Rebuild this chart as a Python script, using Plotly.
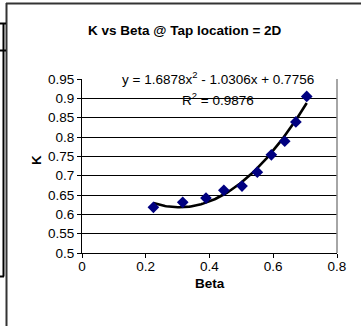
import numpy as np
import plotly.graph_objects as go

# Measured discharge coefficient K against diameter ratio Beta (tap at 2D)
beta = [0.224, 0.316, 0.389, 0.445, 0.502, 0.550, 0.594, 0.636, 0.671, 0.705]
k_vals = [0.618, 0.631, 0.642, 0.662, 0.673, 0.709, 0.754, 0.789, 0.839, 0.905]

# Second-order polynomial trendline coefficients and fit quality
coef_a, coef_b, coef_c = 1.6878, -1.0306, 0.7756
r_squared = 0.9876

y_ticks = [0.5, 0.55, 0.6, 0.65, 0.7, 0.75, 0.8, 0.85, 0.9, 0.95]
y_tick_text = ["0.5", "0.55", "0.6", "0.65", "0.7", "0.75", "0.8", "0.85", "0.9", "0.95"]
x_ticks = [0, 0.2, 0.4, 0.6, 0.8]
x_tick_text = ["0", "0.2", "0.4", "0.6", "0.8"]

W, H = 361, 327
L, R, T, B = 82, 337, 79, 253  # plot area edges in pixels


def px(x):
    return (x - L) / (R - L)


def py(y):
    return (B - y) / (B - T)


x_fit = np.linspace(min(beta), max(beta), 120)
y_fit = coef_a * x_fit ** 2 + coef_b * x_fit + coef_c

font = "Liberation Sans, Arial, sans-serif"
FS = 13.5

fig = go.Figure()
fig.add_trace(go.Scatter(
    x=x_fit, y=y_fit, mode="lines",
    line=dict(color="black", width=2.6), hoverinfo="skip", showlegend=False,
))
fig.add_trace(go.Scatter(
    x=beta, y=k_vals, mode="markers",
    marker=dict(symbol="diamond", size=9, color="#000080", line=dict(width=0)),
    showlegend=False,
))


def label(x, y, text, angle=0):
    fig.add_annotation(x=px(x), y=py(y), xref="paper", yref="paper",
                       xanchor="center", yanchor="middle",
                       text=text, showarrow=False, textangle=angle,
                       font=dict(family=font, size=FS, color="black"))


eq_text = (f"y = {coef_a:.4f}x<sup>2</sup> - {abs(coef_b):.4f}x + {coef_c:.4f}")
label(218, 78, eq_text)
label(218, 99, f"R<sup>2</sup> = {r_squared:.4f}")

# Chart title and axis titles
label(185, 30, "<b>K vs Beta @ Tap location = 2D</b>")
label(210, 283, "<b>Beta</b>")
label(36, 160, "<b>K</b>", angle=-90)


def seg(x0, y0, x1, y1, color="black", width=2):
    return dict(type="line", xref="paper", yref="paper",
                x0=px(x0), x1=px(x1), y0=py(y0), y1=py(y1),
                line=dict(color=color, width=width))


shapes = [
    # chart frame (left and top edges visible)
    seg(6.5, 3, 6.5, 326, "#333333", 2),
    seg(6, 3.5, 361, 3.5, "#333333", 2),
    # neighbouring frame partly visible at the far left
    seg(3.5, 23.5, 3.5, 276.5),
    seg(0, 23.5, 6, 23.5),
    seg(0, 50.5, 6, 50.5),
    seg(0, 276.5, 4, 276.5),
    # right edge of the plot area
    seg(R, T, R, B, "#888888", 1.5),
]

fig.update_layout(
    width=W, height=H,
    margin=dict(l=L, r=W - R, t=T, b=H - B, pad=0),
    paper_bgcolor="white", plot_bgcolor="white",
    font=dict(family=font, size=FS, color="black"),
    shapes=shapes,
    xaxis=dict(range=[0, 0.8], tickvals=x_ticks, ticktext=x_tick_text,
               showgrid=False, zeroline=False, showline=True,
               linecolor="black", linewidth=1, ticks="outside", ticklen=4,
               tickcolor="black", ticklabelstandoff=-3,
               tickfont=dict(family=font, size=FS)),
    yaxis=dict(range=[0.5, 0.95], tickvals=y_ticks, ticktext=y_tick_text,
               showgrid=True, gridcolor="black", gridwidth=1, zeroline=False,
               showline=True, linecolor="black", linewidth=1,
               ticks="outside", ticklen=4, tickcolor="black",
               tickfont=dict(family=font, size=FS)),
)

fig.write_html("out.html")
